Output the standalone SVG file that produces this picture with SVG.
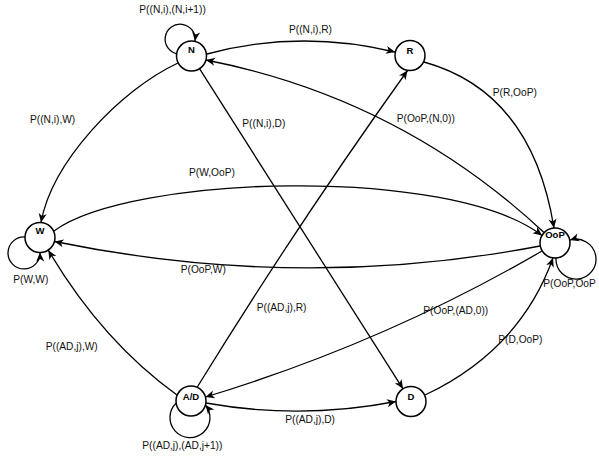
<svg xmlns="http://www.w3.org/2000/svg" width="599" height="457" viewBox="0 0 599 457">
<style>
.node circle{fill:#fff;stroke:#000;stroke-width:1.5}
.node text{font-family:"Liberation Sans",Arial,sans-serif;font-size:9.5px;font-weight:bold;text-anchor:middle;fill:#000}
.edge{fill:none;stroke:#000;stroke-width:1.3;marker-end:url(#arr)}
.lbl{font-family:"Liberation Sans",Arial,sans-serif;font-size:10.2px;fill:#111}
</style>
<defs>
<marker id="arr" viewBox="-10 -5 11 10" refX="0" refY="0" markerWidth="11" markerHeight="10" markerUnits="userSpaceOnUse" orient="auto">
<path d="M0,0 L-9,-4 L-6.5,0 L-9,4 Z" fill="#000"/>
</marker>
</defs>
<rect width="599" height="457" fill="#fff"/>
<g id="connectors">
<path id="e-N-N" class="edge" d="M178,54 A15,15 0 1 1 195,41"/>
<path id="e-N-R" class="edge" d="M207,54 Q300,29 395,52"/>
<path id="e-OoP-N" class="edge" d="M544,232.5 Q400,98 206,60"/>
<path id="e-R-OoP" class="edge" d="M424,62 Q532,92 554,228"/>
<path id="e-N-W" class="edge" d="M178,63 C120,90 52,162 41,222.5"/>
<path id="e-N-D" class="edge" d="M199.5,68.7 L403,388.8"/>
<path id="e-W-OoP" class="edge" d="M54,231 C130,175 450,165 542,235.5"/>
<path id="e-OoP-W" class="edge" d="M540,246 Q300,292 54.5,241.5"/>
<path id="e-W-W" class="edge" d="M25,237 A16,16 0 1 0 40,252.5"/>
<path id="e-OoP-OoP" class="edge" d="M556,258 A20,20 0 1 0 570,240"/>
<path id="e-D-OoP" class="edge" d="M425,395 Q520,350 553,258"/>
<path id="e-OoP-AD" class="edge" d="M542,251 Q384,343 205.5,397"/>
<path id="e-AD-R" class="edge" d="M197,387.5 Q297,225 407.5,70.5"/>
<path id="e-AD-W" class="edge" d="M177,395 Q102,341 48.3,250.2"/>
<path id="e-AD-AD" class="edge" d="M176,403.3 A20,20 0 1 0 205.5,405"/>
<path id="e-AD-D" class="edge" d="M206,403 Q301,420 396,401.5"/>
</g>
<g id="edge-labels">
<text class="lbl" x="139.3" y="13">P((N,i),(N,i+1))</text>
<text class="lbl" x="289" y="33">P((N,i),R)</text>
<text class="lbl" x="30" y="123">P((N,i),W)</text>
<text class="lbl" x="242.3" y="127">P((N,i),D)</text>
<text class="lbl" x="492.7" y="96">P(R,OoP)</text>
<text class="lbl" x="396.7" y="122">P(OoP,(N,0))</text>
<text class="lbl" x="189" y="176">P(W,OoP)</text>
<text class="lbl" x="180.7" y="272.5">P(OoP,W)</text>
<text class="lbl" x="13.3" y="283">P(W,W)</text>
<text class="lbl" x="543.3" y="286.5">P(OoP,OoP</text>
<text class="lbl" x="256.7" y="311">P((AD,j),R)</text>
<text class="lbl" x="423.3" y="314">P(OoP,(AD,0))</text>
<text class="lbl" x="498.3" y="343">P(D,OoP)</text>
<text class="lbl" x="45.7" y="349.5">P((AD,j),W)</text>
<text class="lbl" x="335" y="422.5" text-anchor="end">P((AD,j),D)</text>
<text class="lbl" x="142.3" y="448.5">P((AD,j),(AD,j+1))</text>
</g>
<g id="node-N" class="node"><circle cx="191.5" cy="56" r="15"/><text x="191.5" y="53">N</text></g>
<g id="node-R" class="node"><circle cx="410" cy="55.5" r="15"/><text x="410" y="54">R</text></g>
<g id="node-W" class="node"><circle cx="40" cy="237.5" r="15"/><text x="40" y="234">W</text></g>
<g id="node-OoP" class="node"><circle cx="555" cy="243" r="15"/><text x="555" y="237.5">OoP</text></g>
<g id="node-AD" class="node"><circle cx="191" cy="401" r="15"/><text x="191" y="400">A/D</text></g>
<g id="node-D" class="node"><circle cx="411" cy="401.5" r="15"/><text x="411" y="399.5">D</text></g>
</svg>
